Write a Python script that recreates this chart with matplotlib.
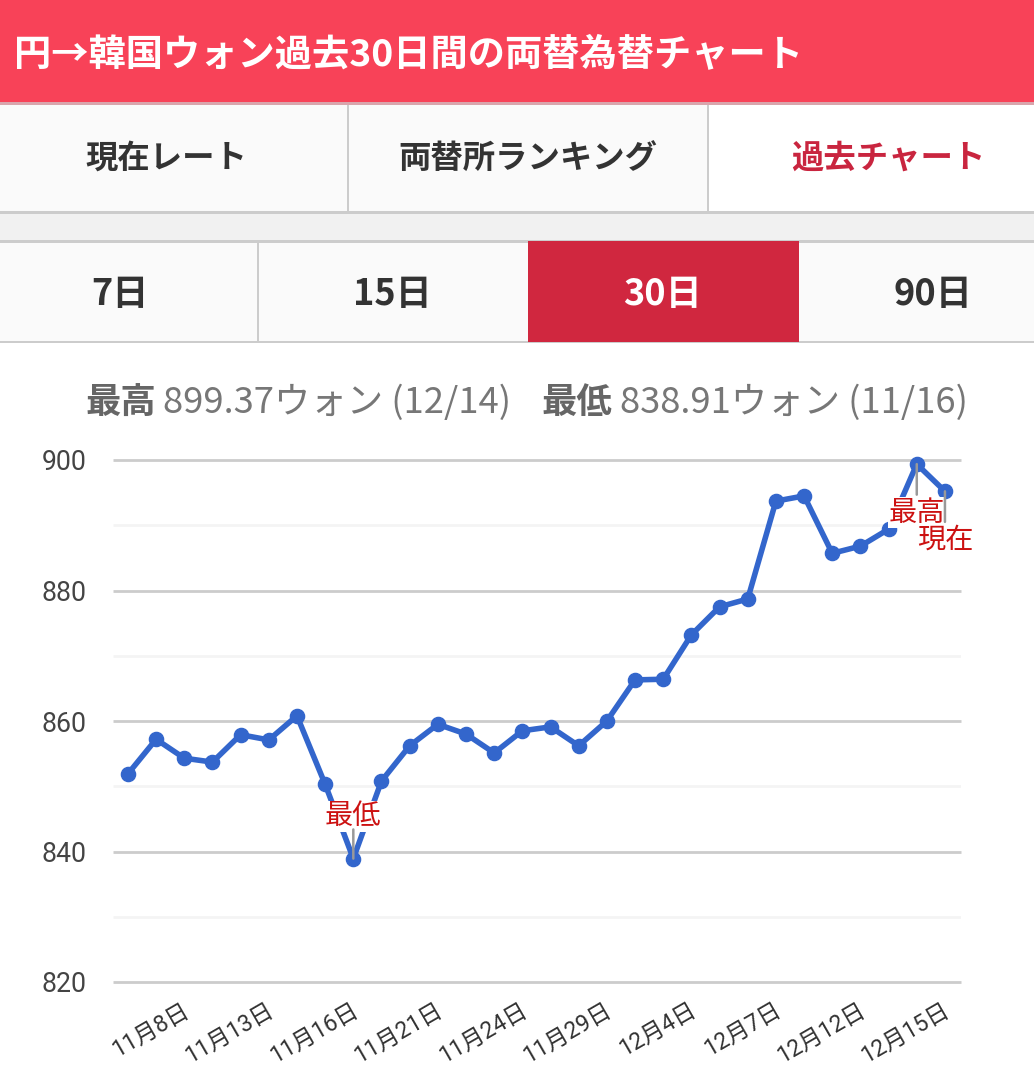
import matplotlib
matplotlib.use('Agg')
import matplotlib.pyplot as plt
from matplotlib.patches import Rectangle
from matplotlib.transforms import ScaledTranslation

plt.rcParams['font.family'] = ['Roboto', 'Noto Sans CJK JP', 'DejaVu Sans']

# chart data
rates = [851.9, 857.2, 854.3, 853.7, 857.9, 857.1, 860.8, 850.3, 838.91, 850.8,
         856.2, 859.5, 858.0, 855.1, 858.5, 859.1, 856.2, 860.0, 866.3, 866.4,
         873.2, 877.5, 878.7, 893.7, 894.5, 885.7, 886.8, 889.4, 899.37, 895.2]
tick_idx = [2, 5, 8, 11, 14, 17, 20, 23, 26, 29]
tick_labels = ['11月8日', '11月13日', '11月16日', '11月21日', '11月24日',
               '11月29日', '12月4日', '12月7日', '12月12日', '12月15日']
major_y = [820, 840, 860, 880, 900]
minor_y = [830, 850, 870, 890]

W, H = 1034, 1080
JP = ['Noto Sans CJK JP', 'DejaVu Sans']

fig = plt.figure(figsize=(W / 100, H / 100), dpi=100, facecolor='white')

# page furniture, in pixels
ui = fig.add_axes([0, 0, 1, 1])
ui.set_xlim(0, W)
ui.set_ylim(H, 0)
ui.axis('off')


def box(x0, y0, x1, y1, color):
    ui.add_patch(Rectangle((x0, y0), x1 - x0, y1 - y0, fc=color, ec='none'))


box(0, 0, W, 102, '#F84258')
box(0, 102, W, 105, '#D9A5AC')
box(0, 105, 708, 212, '#FAFAFA')
box(0, 211, W, 214, '#CCCCCC')
box(0, 214, W, 240, '#F1F1F1')
box(0, 240, W, 243, '#CCCCCC')
box(0, 243, W, 341, '#FAFAFA')
box(0, 341, W, 343, '#CCCCCC')
box(347, 105, 349, 212, '#CCCCCC')
box(707, 105, 709, 212, '#CCCCCC')
box(257, 243, 259, 341, '#CCCCCC')
box(528, 241, 799, 342, '#D0273F')

ui.text(14, 55, '円→韓国ウォン過去30日間の両替為替チャート', color='white',
        fontsize=26.8, fontweight='bold', va='center', ha='left', family=JP)
for x, s, c in [(166, '現在レート', '#333333'), (528, '両替所ランキング', '#333333'),
                (888, '過去チャート', '#C9253F')]:
    ui.text(x, 158, s, color=c, fontsize=23.3, fontweight='bold', va='center', ha='center', family=JP)
for x, s, c in [(120, '7日', '#333333'), (392, '15日', '#333333'),
                (662, '30日', 'white'), (933, '90日', '#333333')]:
    ui.text(x, 294, s, color=c, fontsize=26, fontweight='bold', va='center', ha='center', family=JP)

ui.text(85, 403, '最高', color='#666666', fontsize=25.5, fontweight='bold', va='center', family=JP)
ui.text(163, 403, '899.37ウォン (12/14)', color='#777777', fontsize=26.2, va='center', family=JP)
ui.text(541, 403, '最低', color='#666666', fontsize=25.5, fontweight='bold', va='center', family=JP)
ui.text(620, 403, '838.91ウォン (11/16)', color='#777777', fontsize=26.2, va='center', family=JP)

# line chart
ax = fig.add_axes([113 / W, 1 - 982 / H, 848 / W, 522 / H])
ax.patch.set_alpha(0)
ax.set_xlim(-0.53, 29.57)
ax.set_ylim(820, 900)
for s in ax.spines.values():
    s.set_visible(False)
ax.set_yticks(major_y)
ax.set_yticks(minor_y, minor=True)
ax.grid(axis='y', which='major', color='#CCCCCC', lw=2, clip_on=False, solid_capstyle='butt')
ax.grid(axis='y', which='minor', color='#F4F4F4', lw=2, solid_capstyle='butt')
ax.set_axisbelow(True)
ax.tick_params(axis='y', which='both', length=0, pad=19, labelsize=19.2, labelcolor='#444444')
ax.set_xticks(tick_idx, tick_labels, rotation=30, ha='right', rotation_mode='anchor')
ax.tick_params(axis='x', length=0, pad=12, labelsize=16.6, labelcolor='#333333')
shift = ScaledTranslation(-3 / 100, 0, fig.dpi_scale_trans)
for lab in ax.get_xticklabels():
    lab.set_transform(lab.get_transform() + shift)

ax.plot(range(len(rates)), rates, color='#3366CC', lw=4, marker='o', ms=10.2,
        mec='#3366CC', clip_on=False, zorder=3)

# annotations on lowest, highest and latest point
i_low = rates.index(min(rates))
i_high = rates.index(max(rates))
i_last = len(rates) - 1
for i, s, off in [(i_low, '最低', 30.6), (i_high, '最高', -35), (i_last, '現在', -34.5)]:
    ax.annotate(s, (i, rates[i]), xytext=(0, off), textcoords='offset points', ha='center', va='center',
                color='#CC1111', fontsize=20.3, family=JP, zorder=5,
                bbox=dict(fc='white', ec='none', pad=0.5))
for i, off in [(i_low, 21), (i_high, -22), (i_last, -22)]:
    ax.annotate('', (i, rates[i]), xytext=(0, off), textcoords='offset points',
                arrowprops=dict(arrowstyle='-', color='#999999', lw=1.8, shrinkA=0, shrinkB=0), zorder=6)

fig.savefig('out.png', dpi=100)
